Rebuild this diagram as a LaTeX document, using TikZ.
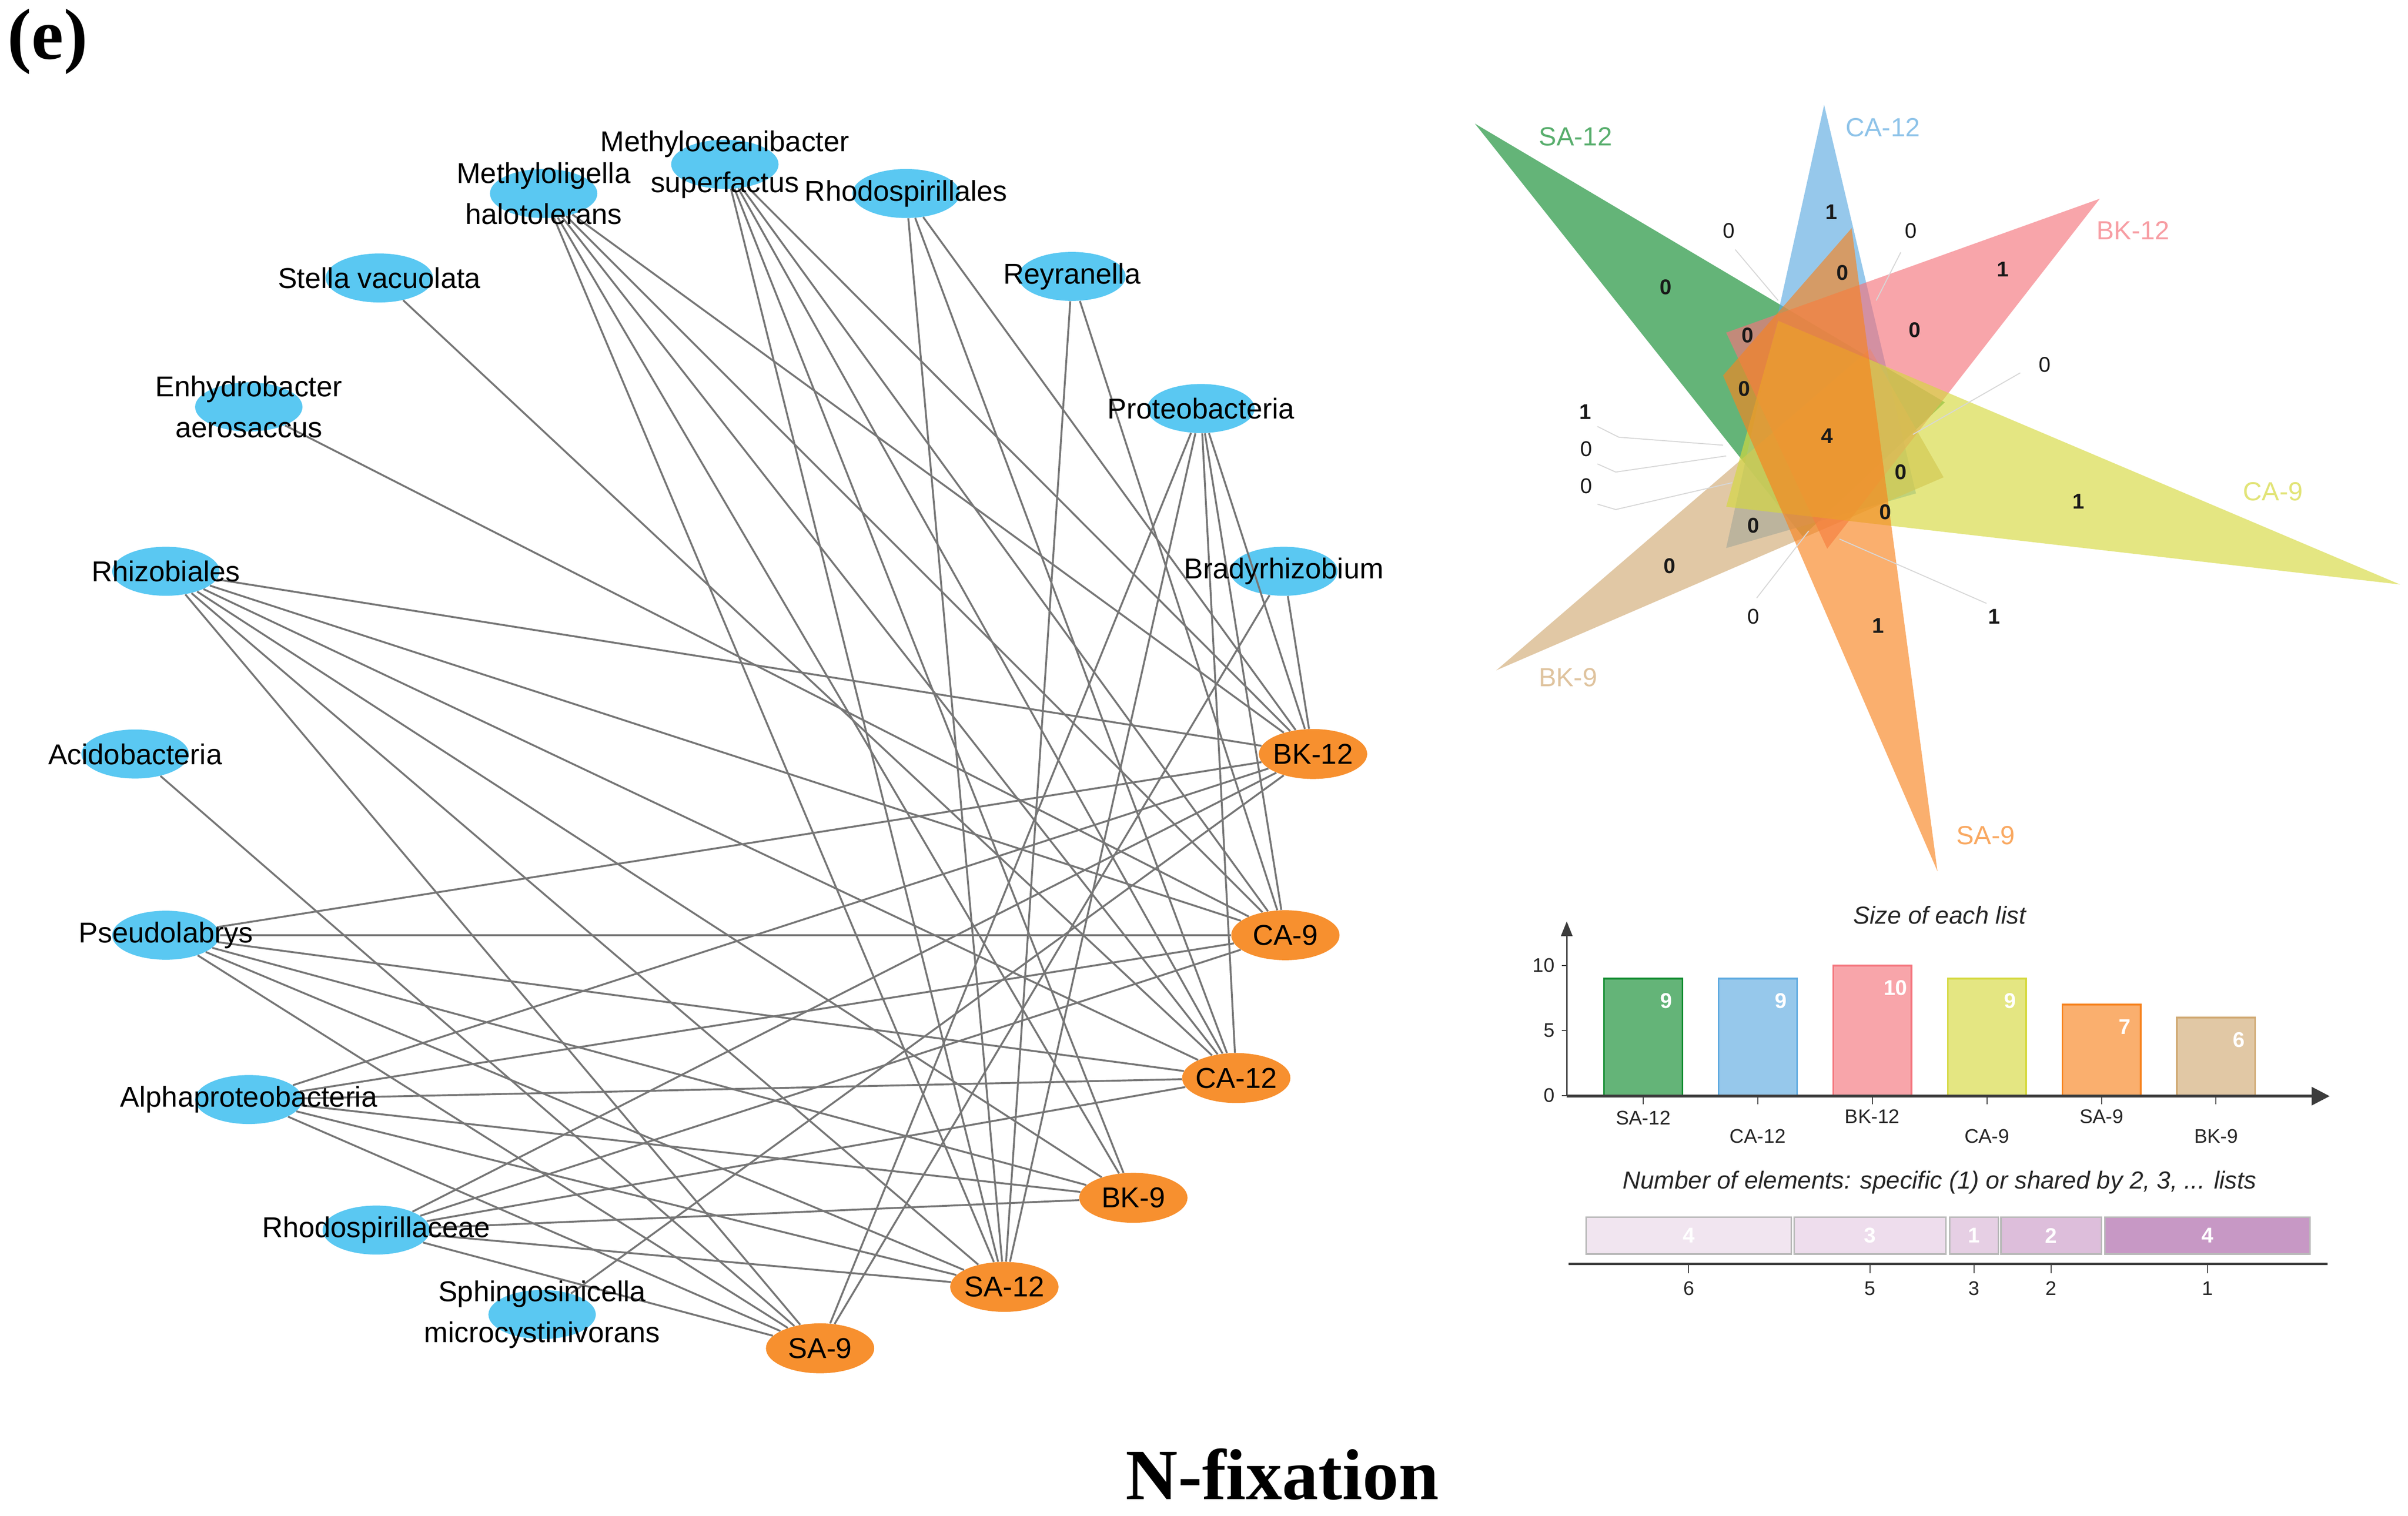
\documentclass[tikz,border=0pt]{standalone}
\usepackage{fontspec}
\setmainfont{Liberation Sans}
\newfontfamily\titlefont{Liberation Serif}
\usetikzlibrary{shapes.geometric,arrows.meta}

\definecolor{taxonblue}{RGB}{90,200,242}
\definecolor{sampleorange}{RGB}{247,144,47}
\definecolor{edgegray}{RGB}{118,118,118}
\definecolor{leadgray}{RGB}{215,215,215}
\definecolor{axisgray}{RGB}{60,60,60}
\definecolor{vsa12}{RGB}{17,140,47}
\definecolor{vca12}{RGB}{94,170,224}
\definecolor{vbk12}{RGB}{244,116,124}
\definecolor{vca9}{RGB}{213,217,63}
\definecolor{vsa9}{RGB}{247,132,32}
\definecolor{vbk9}{RGB}{209,170,117}
\definecolor{segsix}{RGB}{241,229,240}
\definecolor{segfive}{RGB}{238,221,237}
\definecolor{segthree}{RGB}{230,207,228}
\definecolor{segtwo}{RGB}{221,190,219}
\definecolor{segone}{RGB}{199,152,197}
\definecolor{seggray}{RGB}{185,185,185}

\begin{document}
\begin{tikzpicture}[x=0.032895cm, y=-0.032895cm,
    taxon/.style={ellipse, fill=taxonblue, minimum width=2.3cm, minimum height=1.05cm, inner sep=0pt},
    sample/.style={ellipse, fill=sampleorange, minimum width=2.32cm, minimum height=1.07cm, inner sep=0pt},
    taxname/.style={font=\fontsize{17.5}{25}\selectfont, align=center, inner sep=0pt},
    samplename/.style={font=\fontsize{17.5}{21}\selectfont, inner sep=0pt},
    edge/.style={draw=edgegray, line width=1.15pt},
    leader/.style={draw=leadgray, line width=0.6pt},
    vnum/.style={font=\bfseries\fontsize{13}{15}\selectfont, text=black!90},
    vnumlight/.style={font=\fontsize{13}{15}\selectfont, text=black!90},
    setname/.style={font=\fontsize{16}{18}\selectfont, text opacity=0.7},
    small/.style={font=\fontsize{12}{14}\selectfont, text=black!85}]
  \useasboundingbox (0,0) rectangle (1568,987);

  % panel letter and title
  \node[font=\titlefont\bfseries\fontsize{44}{50}\selectfont] (letter) at (31,27) {(e)};
  \node[font=\titlefont\bfseries\fontsize{44}{50}\selectfont] (title) at (835,960) {N-fixation};

  % network: taxa
  \node[taxon] (methyloceani) at (472,107) {};
  \node[taxon] (methyloligella) at (354,126) {};
  \node[taxon] (rhodospirillales) at (590,126) {};
  \node[taxon] (stella) at (247,181) {};
  \node[taxon] (reyranella) at (698,180) {};
  \node[taxon] (enhydro) at (162,265) {};
  \node[taxon] (proteo) at (782,266) {};
  \node[taxon] (rhizobiales) at (108,372) {};
  \node[taxon] (brady) at (836,372) {};
  \node[taxon] (acido) at (88,491) {};
  \node[taxon] (pseudo) at (108,609) {};
  \node[taxon] (alpha) at (162,716) {};
  \node[taxon] (rhodospirillaceae) at (245,801) {};
  \node[taxon] (sphingo) at (353,856) {};

  % network: samples
  \node[sample, label={[samplename]center:BK-12}] (bk12) at (855,491) {};
  \node[sample, label={[samplename]center:CA-9}] (ca9) at (837,609) {};
  \node[sample, label={[samplename]center:CA-12}] (ca12) at (805,702) {};
  \node[sample, label={[samplename]center:BK-9}] (bk9) at (738,780) {};
  \node[sample, label={[samplename]center:SA-12}] (sa12) at (654,838) {};
  \node[sample, label={[samplename]center:SA-9}] (sa9) at (534,878) {};

  % edges
  \foreach \t in {rhizobiales,pseudo,alpha,rhodospirillaceae}
    \foreach \s in {bk12,ca9,ca12,bk9,sa12,sa9}
      \draw[edge] (\t) -- (\s);
  \foreach \t in {methyloligella,methyloceani}
    \foreach \s in {bk12,ca9,ca12,bk9,sa12}
      \draw[edge] (\t) -- (\s);
  \foreach \s in {bk12,ca9,ca12,sa12,sa9}
    \draw[edge] (proteo) -- (\s);
  \foreach \s in {bk12,ca12,sa12}
    \draw[edge] (rhodospirillales) -- (\s);
  \draw[edge] (reyranella) -- (sa12);
  \draw[edge] (reyranella) -- (ca9);
  \draw[edge] (brady) -- (bk12);
  \draw[edge] (brady) -- (sa9);
  \draw[edge] (stella) -- (ca12);
  \draw[edge] (enhydro) -- (ca9);
  \draw[edge] (acido) -- (sa9);
  \draw[edge] (sphingo) -- (bk12);

  % taxon names on top
  \node[taxname] (methyloceani-t) at (methyloceani) {Methyloceanibacter\\superfactus};
  \node[taxname] (methyloligella-t) at (methyloligella) {Methyloligella\\halotolerans};
  \node[taxname] (rhodospirillales-t) at (rhodospirillales) {Rhodospirillales};
  \node[taxname] (stella-t) at (stella) {Stella vacuolata};
  \node[taxname] (reyranella-t) at (reyranella) {Reyranella};
  \node[taxname] (enhydro-t) at (enhydro) {Enhydrobacter\\aerosaccus};
  \node[taxname] (proteo-t) at (proteo) {Proteobacteria};
  \node[taxname] (rhizobiales-t) at (rhizobiales) {Rhizobiales};
  \node[taxname] (brady-t) at (brady) {Bradyrhizobium};
  \node[taxname] (acido-t) at (acido) {Acidobacteria};
  \node[taxname] (pseudo-t) at (pseudo) {Pseudolabrys};
  \node[taxname] (alpha-t) at (alpha) {Alphaproteobacteria};
  \node[taxname] (rhodospirillaceae-t) at (rhodospirillaceae) {Rhodospirillaceae};
  \node[taxname] (sphingo-t) at (sphingo) {Sphingosinicella\\microcystinivorans};

  % venn triangles
  \fill[vsa12, fill opacity=0.65] (960.4,80.5) -- (1266.4,262.0) -- (1173.8,349.2) -- cycle;
  \fill[vca12, fill opacity=0.65] (1187.8,68.3) -- (1124.0,356.9) -- (1247.6,321.3) -- cycle;
  \fill[vbk9, fill opacity=0.65] (974.3,436.5) -- (1217.7,227.1) -- (1265.6,310.8) -- cycle;
  \fill[vbk12, fill opacity=0.65] (1367.3,129.4) -- (1124.0,216.6) -- (1189.8,357.3) -- cycle;
  \fill[vca9, fill opacity=0.65] (1562.8,380.6) -- (1157.9,208.9) -- (1124.0,330.0) -- cycle;
  \fill[vsa9, fill opacity=0.65] (1261.6,567.4) -- (1122.0,244.5) -- (1205.7,148.6) -- cycle;

  \node[setname, text=vsa12] (lsa12) at (1026,89) {SA-12};
  \node[setname, text=vca12] (lca12) at (1226,83) {CA-12};
  \node[setname, text=vbk12] (lbk12) at (1389,150) {BK-12};
  \node[setname, text=vca9] (lca9) at (1480,320) {CA-9};
  \node[setname, text=vsa9] (lsa9) at (1293,544) {SA-9};
  \node[setname, text=vbk9] (lbk9) at (1021,441) {BK-9};

  % leaders for the small regions
  \draw[leader] (1129.9,162.5) -- (1157.9,195.7);
  \draw[leader] (1237.7,164.3) -- (1221.7,195.7);
  \draw[leader] (1315.5,242.8) -- (1245.6,282.9);
  \draw[leader] (1040.2,277.7) -- (1054.1,284.7) -- (1122,289.9);
  \draw[leader] (1040.2,302.1) -- (1052.1,307.4) -- (1124,296.9);
  \draw[leader] (1040.2,328.3) -- (1052.1,331.8) -- (1128,314.3);
  \draw[leader] (1143.9,389.4) -- (1177.8,345.7);
  \draw[leader] (1293.5,392.9) -- (1197.8,351);

  \foreach \x/\y/\n in {1192.6/138.1/1, 1084.8/187/0, 1199.8/177.5/0, 1304.3/175.4/1,
      1137.9/218.4/0, 1246.8/214.9/0, 1135.9/253.3/0, 1189.8/284/4, 1237.7/307.4/0,
      1353.4/326.5/1, 1227.7/333.5/0, 1141.9/342.3/0, 1087.2/368.4/0, 1222.9/407.5/1,
      1032.2/268.3/1, 1298.7/401.6/1}
    \node[vnum] at (\x,\y) {\n};
  \foreach \x/\y in {1125.9/150.3, 1244.4/150.3, 1331.4/237.6, 1033/292.3, 1033/316.4, 1141.9/401.6}
    \node[vnumlight] at (\x,\y) {0};

  % size of each list
  \node[font=\itshape\fontsize{15}{18}\selectfont, text=black!85] (sizetitle) at (1263,596) {Size of each list};
  \draw[axisgray, line width=0.8pt, -{Triangle[length=9pt, width=7pt]}] (1020.2,713.4) -- (1020.2,600);
  \foreach \v in {0,5,10} {
    \draw[axisgray, line width=0.6pt] (1017,713.4-8.47*\v) -- (1020.2,713.4-8.47*\v);
    \node[small, anchor=east] at (1016,713.4-8.47*\v) {\v};
  }
  \foreach \lab/\v/\col/\ly [count=\i from 0] in {SA-12/9/vsa12/728, CA-12/9/vca12/740,
      BK-12/10/vbk12/727, CA-9/9/vca9/740, SA-9/7/vsa9/727, BK-9/6/vbk9/740} {
    \pgfmathsetmacro\bx{1070+74.6*\i}
    \fill[\col, fill opacity=0.65] (\bx-25.5,713.4) rectangle (\bx+25.5,713.4-8.47*\v);
    \draw[\col, line width=1pt] (\bx-25.5,713.4) rectangle (\bx+25.5,713.4-8.47*\v);
    \node[font=\bfseries\fontsize{13}{15}\selectfont, text=white] at (\bx+15,713.4-8.47*\v+14.5) {\v};
    \draw[axisgray, line width=0.6pt] (\bx,713.4) -- (\bx,719);
    \node[small] at (\bx,\ly) {\lab};
  }
  \draw[axisgray, line width=1.6pt, -{Triangle[length=11pt, width=11pt]}] (1020.2,713.8) -- (1517,713.8);

  % shared elements
  \node[font=\itshape\fontsize{15}{18}\selectfont, text=black!85] (sharetitle) at (1263,770) {Number of elements: specific (1) or shared by 2, 3, ... lists};
  \foreach \a/\b/\n/\shade in {1032.8/1166.4/4/segsix, 1168.3/1267.0/3/segfive,
      1269.6/1301.2/1/segthree, 1303.0/1368.3/2/segtwo, 1370.6/1504.2/4/segone} {
    \draw[fill=\shade, draw=seggray, line width=0.9pt] (\a,792.6) rectangle (\b,816.6);
    \node[font=\bfseries\fontsize{13}{15}\selectfont, text=white] at ({(\a+\b)/2},804.6) {\n};
  }
  \draw[axisgray, line width=1.6pt] (1021.4,823) -- (1515.6,823);
  \foreach \x/\k in {1099.6/6, 1217.6/5, 1285.4/3, 1335.6/2, 1437.4/1} {
    \draw[axisgray, line width=0.6pt] (\x,823) -- (\x,829);
    \node[small] at (\x,839) {\k};
  }
\end{tikzpicture}
\end{document}
